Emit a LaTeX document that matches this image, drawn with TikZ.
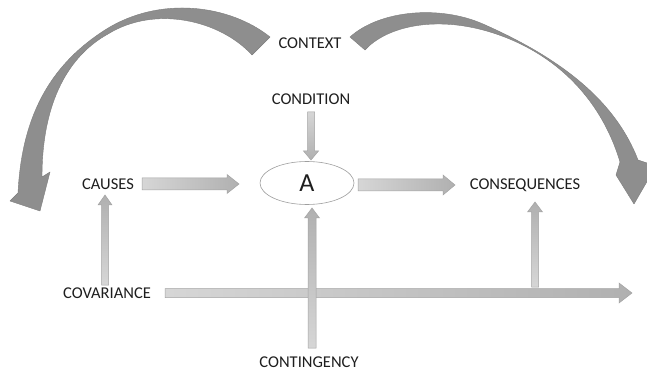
\documentclass[tikz,border=0pt]{standalone}
\usepackage{fontspec}
\setmainfont{Carlito}
\usetikzlibrary{calc,shapes.geometric}
\definecolor{curvegray}{RGB}{142,142,142}
\definecolor{curveedge}{RGB}{125,125,125}
\definecolor{txt}{RGB}{30,30,30}
\tikzset{
  lbl/.style={font=\fontsize{16.5}{19}\selectfont, text=txt, inner sep=1pt},
  harr/.style={left color=gray!32, right color=gray!62, draw=gray!72, line width=0.5pt},
  uarr/.style={bottom color=gray!32, top color=gray!62, draw=gray!72, line width=0.5pt},
  darr/.style={top color=gray!32, bottom color=gray!62, draw=gray!72, line width=0.5pt},
  bigcurve/.style={fill=curvegray, draw=curveedge, line width=0.4pt, line join=round},
}
% horizontal block arrow pointing right: #1 start, #2 end, #3 shaft half width, #4 head half width, #5 head length
\newcommand\blkright[5]{%
  \path[harr] let \p1=(#1), \p2=(#2) in
    (\x1,\y1+#3) -- (\x2-#5,\y1+#3) -- (\x2-#5,\y1+#4) -- (\x2,\y1) --
    (\x2-#5,\y1-#4) -- (\x2-#5,\y1-#3) -- (\x1,\y1-#3) -- cycle;}
% vertical block arrow pointing up
\newcommand\blkup[5]{%
  \path[uarr] let \p1=(#1), \p2=(#2) in
    (\x1+#3,\y1) -- (\x1+#3,\y2-#5) -- (\x1+#4,\y2-#5) -- (\x1,\y2) --
    (\x1-#4,\y2-#5) -- (\x1-#3,\y2-#5) -- (\x1-#3,\y1) -- cycle;}
% vertical block arrow pointing down
\newcommand\blkdown[5]{%
  \path[darr] let \p1=(#1), \p2=(#2) in
    (\x1+#3,\y1) -- (\x1+#3,\y2+#5) -- (\x1+#4,\y2+#5) -- (\x1,\y2) --
    (\x1-#4,\y2+#5) -- (\x1-#3,\y2+#5) -- (\x1-#3,\y1) -- cycle;}
\begin{document}
\begin{tikzpicture}[x=1pt,y=-1pt]
\useasboundingbox[fill=white] (0,0) rectangle (647,371);

% nodes
\node[lbl] (context) at (310,43) {CONTEXT};
\node[lbl] (condition) at (311,99) {CONDITION};
\node[lbl] (causes) at (108,184) {CAUSES};
\node[draw=gray!75, line width=0.6pt, ellipse, minimum width=94pt, minimum height=43pt, inner sep=0pt,
      font=\fontsize{26}{28}\selectfont, text=txt] (A) at (307,183) {A};
\node[lbl] (cons) at (525,185) {CONSEQUENCES};
\node[lbl] (covar) at (107,293) {COVARIANCE};
\node[lbl] (conting) at (309,362) {CONTINGENCY};

% coordinates for arrow ends
\coordinate (condS) at (311,112);
\coordinate (condE) at (311,160);
\coordinate (causS) at (142,184);
\coordinate (causE) at (239,184);
\coordinate (aS) at (358,185);
\coordinate (aE) at (455,185);
\coordinate (covS) at (105,285);
\coordinate (covE) at (105,195);
\coordinate (longS) at (165,293);
\coordinate (longE) at (632,293);
\coordinate (consS) at (535,287);
\coordinate (consE) at (535,202);
\coordinate (contS) at (312,348);
\coordinate (contE) at (312,208);

% block arrows
\blkdown{condS}{condE}{3.5pt}{7.5pt}{9pt}
\blkright{causS}{causE}{6pt}{9.5pt}{12pt}
\blkright{aS}{aE}{6pt}{10pt}{12pt}
\blkup{covS}{covE}{3.5pt}{7pt}{10pt}
\blkright{longS}{longE}{4.5pt}{10pt}{13pt}
\blkup{consS}{consE}{3.5pt}{7.5pt}{10pt}
\blkup{contS}{contE}{4pt}{7.5pt}{10pt}

% big curved (twisted ribbon) arrows from CONTEXT
\path[bigcurve] (270,37) .. controls (230,5) and (160,-5) .. (105,30)
  .. controls (55,62) and (22,110) .. (18,193)
  -- (10,201) -- (40,211) -- (50,172) -- (42,177)
  .. controls (42,100) and (70,55) .. (108,34)
  .. controls (155,5) and (220,20) .. (252,55) -- cycle;
\path[bigcurve] (350,37) .. controls (380,10) and (440,5) .. (483,24)
  .. controls (560,58) and (615,100) .. (638,160)
  -- (656,166) -- (634,204) -- (616,175) -- (620,162)
  .. controls (600,95) and (550,48) .. (483,30)
  .. controls (430,16) and (385,28) .. (365,50) -- cycle;
\end{tikzpicture}
\end{document}
